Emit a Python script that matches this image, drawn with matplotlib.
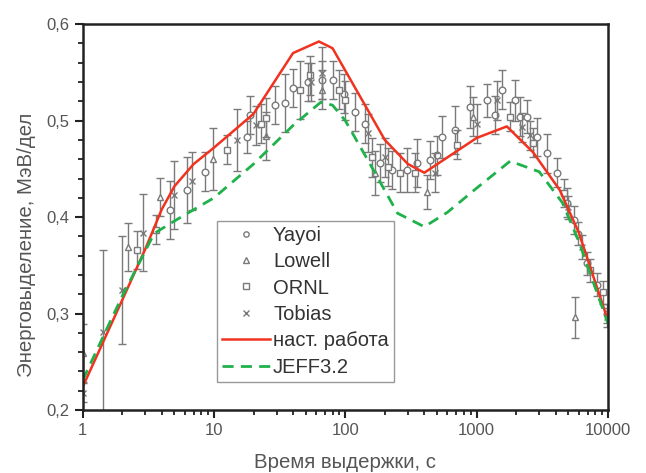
import matplotlib
matplotlib.use("Agg")
import matplotlib.pyplot as plt
from matplotlib.ticker import FixedLocator, MultipleLocator, FuncFormatter, LogLocator, NullFormatter

plt.rcParams['font.family'] = ['Liberation Sans', 'DejaVu Sans']

# --- data ---
yayoi_t = [4.6, 6.2, 8.5, 17.8, 18.7, 29, 34.5, 40, 52, 67, 80, 98, 118, 141, 183, 226, 294,
           350, 440, 500, 546, 685, 890, 1200, 1390, 1570, 1970, 2150, 2400, 2900, 3450, 4100,
           4900, 5500, 5900, 6900, 8200, 9800]
yayoi_q = [0.407, 0.428, 0.447, 0.483, 0.506, 0.516, 0.518, 0.534, 0.540, 0.542, 0.542, 0.528,
           0.509, 0.497, 0.456, 0.449, 0.449, 0.456, 0.459, 0.464, 0.483, 0.490, 0.514, 0.521,
           0.506, 0.532, 0.521, 0.504, 0.504, 0.483, 0.466, 0.446, 0.415, 0.397, 0.383, 0.352,
           0.330, 0.300]
yayoi_e = [0.03, 0.034, 0.02, 0.017, 0.02, 0.02, 0.03, 0.02, 0.02, 0.02, 0.02, 0.02, 0.02,
           0.02, 0.02, 0.02, 0.023, 0.025, 0.02, 0.02, 0.022, 0.025, 0.022, 0.017, 0.02, 0.02,
           0.021, 0.02, 0.017, 0.02, 0.02, 0.015, 0.015, 0.015, 0.012, 0.012, 0.012, 0.01]

lowell_t = [1.0, 2.2, 3.9, 9.8, 25, 67, 168, 417, 935, 5600]
lowell_q = [0.259, 0.369, 0.421, 0.460, 0.484, 0.532, 0.446, 0.426, 0.504, 0.296]
lowell_e = [0.03, 0.025, 0.02, 0.032, 0.025, 0.02, 0.023, 0.018, 0.02, 0.021]

ornl_t = [2.6, 3.6, 12.5, 23, 25, 45, 54, 90, 99, 159, 210, 261, 340, 710, 1800, 2700, 4600,
          7300, 9200]
ornl_q = [0.366, 0.387, 0.470, 0.497, 0.503, 0.532, 0.547, 0.532, 0.521, 0.462, 0.452, 0.446,
          0.446, 0.475, 0.504, 0.477, 0.425, 0.345, 0.322]
ornl_e = [0.02, 0.015, 0.015, 0.02, 0.02, 0.03, 0.02, 0.02, 0.02, 0.02, 0.02, 0.02, 0.02,
          0.015, 0.015, 0.015, 0.015, 0.012, 0.012]

tobias_t = [1.0, 1.42, 2.0, 2.9, 5.0, 6.8, 14.9, 21, 55, 66, 148, 200, 480, 1000, 1440, 2220,
            2550, 5000, 6300, 9800]
tobias_q = [0.218, 0.281, 0.324, 0.384, 0.423, 0.437, 0.480, 0.495, 0.540, 0.549, 0.487, 0.462,
            0.446, 0.497, 0.521, 0.493, 0.485, 0.410, 0.369, 0.296]
tobias_e = [0.01, 0.085, 0.056, 0.04, 0.035, 0.03, 0.032, 0.02, 0.02, 0.027, 0.02, 0.02, 0.02,
            0.02, 0.02, 0.015, 0.015, 0.012, 0.012, 0.01]

calc_t = [1, 2, 3, 4, 5, 7, 10, 20, 40, 63, 80, 200, 300, 400, 700, 1000, 1700, 2700, 4300,
          6000, 10000]
calc_q = [0.224, 0.314, 0.367, 0.408, 0.432, 0.455, 0.472, 0.507, 0.570, 0.582, 0.575, 0.480,
          0.455, 0.446, 0.468, 0.482, 0.494, 0.467, 0.428, 0.384, 0.293]

jeff_t = [1, 1.5, 2, 3, 3.5, 5, 10, 20, 40, 65, 80, 100, 150, 250, 400, 600, 1000, 1800, 3000,
          4500, 6000, 10000]
jeff_q = [0.231, 0.282, 0.318, 0.365, 0.383, 0.396, 0.420, 0.455, 0.495, 0.519, 0.516, 0.500,
          0.458, 0.404, 0.390, 0.405, 0.430, 0.458, 0.447, 0.415, 0.375, 0.290]

gray = '#7a7a7a'
fig = plt.figure(figsize=(6.46, 4.73), dpi=100)
ax = fig.add_axes([0.128, 0.133, 0.813, 0.816])

sets = [(yayoi_t, yayoi_q, yayoi_e, 'o', 'Yayoi'),
        (lowell_t, lowell_q, lowell_e, '^', 'Lowell'),
        (ornl_t, ornl_q, ornl_e, 's', 'ORNL'),
        (tobias_t, tobias_q, tobias_e, 'x', 'Tobias')]
for t, q, e, m, name in sets:
    ax.errorbar(t, q, yerr=e, fmt='none', ecolor=gray, elinewidth=1.0, capsize=2.6, capthick=1.0)
    ax.plot(t, q, ls='none', marker=m, ms=4.8, mfc='white' if m != 'x' else gray,
            mec=gray, mew=1.0, label=name)

ax.plot(calc_t, calc_q, color='#f0321e', lw=1.8, label='наст. работа')
ax.plot(jeff_t, jeff_q, color='#1fb14a', lw=2.0, ls=(0, (4, 2.6)), label='JEFF3.2')

ax.set_xscale('log')
ax.set_xlim(1, 10000)
ax.set_ylim(0.2, 0.6)
ax.xaxis.set_major_locator(FixedLocator([1, 10, 100, 1000, 10000]))
ax.xaxis.set_major_formatter(FuncFormatter(lambda v, p: f"{v:.0f}"))
ax.xaxis.set_minor_locator(LogLocator(base=10, subs=range(2, 10)))
ax.xaxis.set_minor_formatter(NullFormatter())
ax.yaxis.set_major_locator(MultipleLocator(0.1))
ax.yaxis.set_minor_locator(MultipleLocator(0.02))
ax.yaxis.set_major_formatter(FuncFormatter(lambda v, p: f"{v:.1f}".replace('.', ',')))

ax.tick_params(which='major', direction='out', length=6, width=1.5, labelsize=12,
               labelcolor='#555555', colors='#222222')
ax.tick_params(which='minor', direction='out', length=3.5, width=1.3, colors='#222222')
for s in ax.spines.values():
    s.set_linewidth(1.8)
    s.set_color('#222222')

ax.set_xlabel('Время выдержки, с', fontsize=14.7, color='#555555')
ax.set_ylabel('Энерговыделение, МэВ/дел', fontsize=14.7, color='#555555')
ax.xaxis.label.set_va('center')
ax.yaxis.label.set_va('center')
ax.xaxis.set_label_coords(0.5, -0.137)
ax.yaxis.set_label_coords(-0.107, 0.427)

leg = ax.legend(loc='lower left', bbox_to_anchor=(0.255, 0.073), borderaxespad=0,
                fontsize=14.5, handlelength=2.4, handletextpad=0.15, labelspacing=0.37,
                markerscale=0.8, fancybox=False, edgecolor='#999999', framealpha=1,
                borderpad=0.25)
for txt in leg.get_texts():
    txt.set_color('#333333')

fig.savefig('out.png', dpi=100)
